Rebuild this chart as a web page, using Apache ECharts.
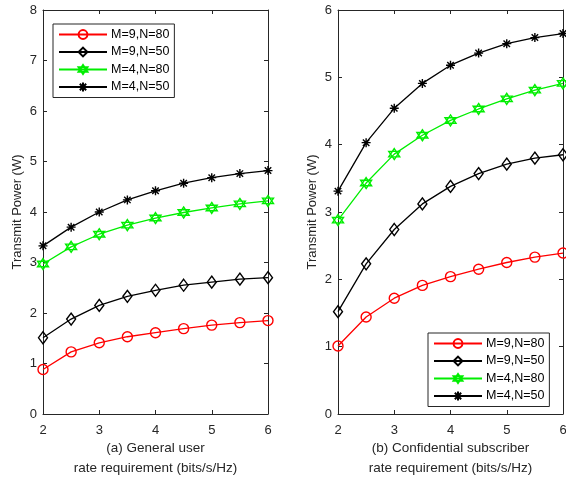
<!DOCTYPE html>
<html>
<head>
<meta charset="utf-8">
<script src="https://cdn.jsdelivr.net/npm/echarts@6/dist/echarts.min.js"></script>
<style>
  html, body { margin: 0; padding: 0; background: #fff; }
  #chart { width: 566px; height: 478px; }
</style>
</head>
<body>
<div id="chart"></div>
<script>
const xVals = [2, 2.5, 3, 3.5, 4, 4.5, 5, 5.5, 6]
const seriesNames = ['M=9,N=80', 'M=9,N=50', 'M=4,N=80', 'M=4,N=50']

// (a) general user
const aRed = [0.88, 1.23, 1.41, 1.53, 1.61, 1.69, 1.76, 1.81, 1.85]
const aDia = [1.51, 1.88, 2.15, 2.33, 2.45, 2.55, 2.61, 2.67, 2.70]
const aGreen = [2.97, 3.31, 3.56, 3.74, 3.88, 3.99, 4.08, 4.16, 4.22]
const aStar = [3.33, 3.70, 4.00, 4.24, 4.42, 4.57, 4.68, 4.76, 4.82]

// (b) confidential subscriber
const bRed = [1.01, 1.44, 1.72, 1.91, 2.04, 2.15, 2.25, 2.33, 2.39]
const bDia = [1.52, 2.23, 2.74, 3.12, 3.38, 3.57, 3.71, 3.80, 3.85]
const bGreen = [2.88, 3.43, 3.86, 4.14, 4.36, 4.53, 4.68, 4.81, 4.91]
const bStar = [3.31, 4.03, 4.54, 4.91, 5.18, 5.36, 5.50, 5.59, 5.65]

const axisColor = '#262626'
const font = 'Liberation Sans, Arial, Helvetica, sans-serif'

const styles = [
  { color: '#ff0000', symbol: 'circle', size: 10 },
  { color: '#000000', symbol: 'path://M0,-6 L4.6,0 L0,6 L-4.6,0 Z', size: [9, 12] },
  { color: '#00ee00', symbol: 'path://M0,-10 L8.66,5 L-8.66,5 Z M0,10 L8.66,-5 L-8.66,-5 Z', size: 11 },
  { color: '#000000', symbol: 'path://M0,-5 L0,5 M-5,0 L5,0 M-3.6,-3.6 L3.6,3.6 M-3.6,3.6 L3.6,-3.6', size: 9 }
]

const makeSeries = (idx, values, data) => {
  const s = styles[idx]
  return {
    name: seriesNames[idx],
    type: 'line',
    xAxisIndex: data,
    yAxisIndex: data,
    data: xVals.map((x, i) => [x, values[i]]),
    symbol: s.symbol,
    symbolSize: s.size,
    showAllSymbol: true,
    lineStyle: { color: s.color, width: 1.3 },
    itemStyle: { color: 'transparent', borderColor: s.color, borderWidth: 1.4 },
    emphasis: { disabled: true },
    z: 3
  }
}

const xAxisBase = (grid, pos, labels) => ({
  type: 'value',
  gridIndex: grid,
  position: pos,
  min: 2,
  max: 6,
  interval: 1,
  axisLine: { show: true, onZero: false, lineStyle: { color: axisColor, width: 1 } },
  axisTick: { show: true, inside: true, length: 4, lineStyle: { color: axisColor } },
  axisLabel: { show: labels, color: axisColor, fontSize: 13, fontFamily: font, margin: 10 },
  splitLine: { show: false }
})

const yAxisBase = (grid, pos, max, labels) => ({
  type: 'value',
  gridIndex: grid,
  position: pos,
  min: 0,
  max: max,
  interval: 1,
  axisLine: { show: true, onZero: false, lineStyle: { color: axisColor, width: 1 } },
  axisTick: { show: true, inside: true, length: 4, lineStyle: { color: axisColor } },
  axisLabel: { show: labels, color: axisColor, fontSize: 13, fontFamily: font, margin: 6 },
  splitLine: { show: false }
})

const xNames = ['(a) General user\nrate requirement (bits/s/Hz)', '(b) Confidential subscriber\nrate requirement (bits/s/Hz)']

const xAxes = []
const yAxes = []
;[0, 1].forEach(g => {
  const xa = xAxisBase(g, 'bottom', true)
  xa.name = xNames[g]
  xa.nameLocation = 'middle'
  xa.nameGap = 24
  xa.nameMoveOverlap = false
  xa.nameTextStyle = { color: axisColor, fontSize: 13.5, fontFamily: font, lineHeight: 20, verticalAlign: 'top' }
  xAxes.push(xa)
  const ya = yAxisBase(g, 'left', g === 0 ? 8 : 6, true)
  ya.name = 'Transmit Power (W)'
  ya.nameLocation = 'middle'
  ya.nameGap = 19
  ya.nameMoveOverlap = false
  ya.nameTextStyle = { color: axisColor, fontSize: 13, fontFamily: font }
  yAxes.push(ya)
})
// mirrored top/right axes for the box
xAxes.push(xAxisBase(0, 'top', false), xAxisBase(1, 'top', false))
yAxes.push(yAxisBase(0, 'right', 8, false), yAxisBase(1, 'right', 6, false))

const legendBase = (left, top) => ({
  orient: 'vertical',
  left: left,
  top: top,
  data: seriesNames,
  itemWidth: 48,
  itemHeight: 11,
  itemGap: 4.5,
  padding: [4, 5, 4, 5],
  borderColor: axisColor,
  borderWidth: 1,
  backgroundColor: '#fff',
  selectedMode: false,
  textStyle: { color: '#000', fontSize: 12.5, fontFamily: font, padding: [0, 0, 0, -1] }
})

const chart = echarts.init(document.getElementById('chart'))
chart.setOption({
  animation: false,
  grid: [
    { left: 43, top: 10, width: 225, height: 404, outerBoundsMode: 'none', containLabel: false },
    { left: 338, top: 10, width: 225, height: 404, outerBoundsMode: 'none', containLabel: false }
  ],
  xAxis: xAxes,
  yAxis: yAxes,
  legend: [legendBase(53, 24), legendBase(428, 333)],
  series: [
    makeSeries(0, aRed, 0), makeSeries(1, aDia, 0), makeSeries(2, aGreen, 0), makeSeries(3, aStar, 0),
    makeSeries(0, bRed, 1), makeSeries(1, bDia, 1), makeSeries(2, bGreen, 1), makeSeries(3, bStar, 1)
  ]
})
</script>
</body>
</html>
